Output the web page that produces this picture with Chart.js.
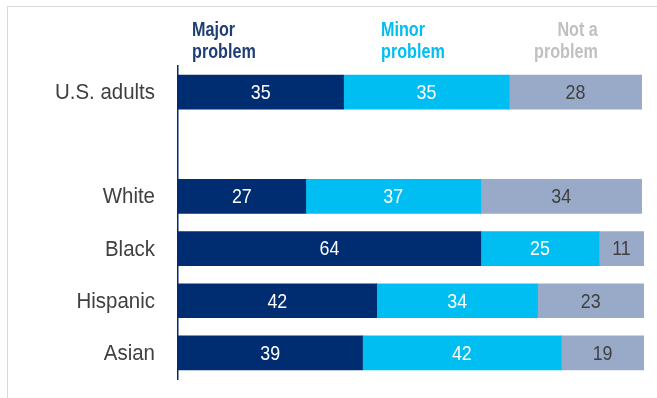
<!DOCTYPE html>
<html>
<head>
<meta charset="utf-8">
<script src="https://cdn.jsdelivr.net/npm/chart.js@4/dist/chart.umd.min.js"></script>
<style>
  html, body { margin: 0; padding: 0; background: #fff; }
  #wrap { position: relative; width: 657px; height: 398px; overflow: hidden; }
  #frame { position: absolute; left: 7px; top: 6px; width: 700px; height: 500px;
           border-left: 1px solid #dadada; border-top: 1px solid #dadada; }
  .head { position: absolute; font-family: "Liberation Sans", Arial, sans-serif;
          font-weight: bold; font-size: 21px; line-height: 22px; white-space: nowrap;
          transform: scaleX(0.77); }
  canvas { position: absolute; left: 0; top: 0; }
</style>
</head>
<body>
<div id="wrap">
  <div id="frame"></div>
  <canvas id="chart" width="657" height="398"></canvas>
  <div class="head" style="left:192px; top:18px; color:#1f3e73; transform-origin:left top;">Major<br>problem</div>
  <div class="head" style="left:381px; top:18px; color:#00bdf2; transform-origin:left top;">Minor<br>problem</div>
  <div class="head" style="right:59px; top:18px; text-align:right; color:#c0c0c0; transform-origin:right top;">Not a<br>problem</div>
</div>
<script>
// groups down the left side; the blank one leaves a gap under the total
const categories = ["U.S. adults", "", "White", "Black", "Hispanic", "Asian"];
const majorProblem = [35, null, 27, 64, 42, 39];
const minorProblem = [35, null, 37, 25, 34, 42];
const notAProblem = [28, null, 34, 11, 23, 19];

const navy = '#002d72';
const cyan = '#00bef2';
const greyBlue = '#99aac8';

// condensed text: squeeze the glyphs horizontally around (x, y)
function narrowText(ctx, text, x, y, squeeze) {
  ctx.save();
  ctx.translate(x, y);
  ctx.scale(squeeze, 1);
  ctx.fillText(text, 0, 0);
  ctx.restore();
}

// writes each value in the middle of its segment, and the group names
const segmentLabels = {
  id: 'segmentLabels',
  afterDatasetsDraw(chart) {
    const ctx = chart.ctx;
    ctx.save();
    ctx.font = '21px "Liberation Sans", Arial, sans-serif';
    ctx.textAlign = 'center';
    ctx.textBaseline = 'middle';
    chart.data.datasets.forEach((ds, i) => {
      const meta = chart.getDatasetMeta(i);
      meta.data.forEach((bar, j) => {
        const v = ds.data[j];
        if (v == null) return;
        const left = Math.min(bar.x, bar.base);
        const right = Math.min(Math.max(bar.x, bar.base), chart.chartArea.right);
        ctx.fillStyle = ds.labelColor;
        narrowText(ctx, String(v), (left + right) / 2, bar.y + 1, 0.85);
      });
    });

    const yScale = chart.scales.y;
    ctx.font = '22px "Liberation Sans", Arial, sans-serif';
    ctx.textAlign = 'right';
    ctx.fillStyle = '#404040';
    categories.forEach((name, i) => {
      if (!name) return;
      narrowText(ctx, name, 155, yScale.getPixelForValue(i) + 1, 0.93);
    });
    ctx.restore();
  }
};

new Chart(document.getElementById('chart'), {
  type: 'bar',
  data: {
    labels: categories,
    datasets: [
      { label: 'Major problem', data: majorProblem, backgroundColor: navy, labelColor: '#ffffff' },
      { label: 'Minor problem', data: minorProblem, backgroundColor: cyan, labelColor: '#ffffff' },
      { label: 'Not a problem', data: notAProblem, backgroundColor: greyBlue, labelColor: '#404040' }
    ]
  },
  options: {
    indexAxis: 'y',
    responsive: false,
    animation: false,
    layout: { padding: { left: 0, right: 13, top: 66, bottom: 19 } },
    datasets: { bar: { barThickness: 34, borderWidth: 0 } },
    plugins: { legend: { display: false }, tooltip: { enabled: false } },
    scales: {
      x: { stacked: true, display: false, min: 0, max: 98.5 },
      y: {
        stacked: true,
        afterFit: (scale) => { scale.width = 178; },
        grid: { display: false, drawTicks: false },
        border: { display: true, color: navy, width: 1.5 },
        ticks: { display: false }
      }
    }
  },
  plugins: [segmentLabels]
});
</script>
</body>
</html>
